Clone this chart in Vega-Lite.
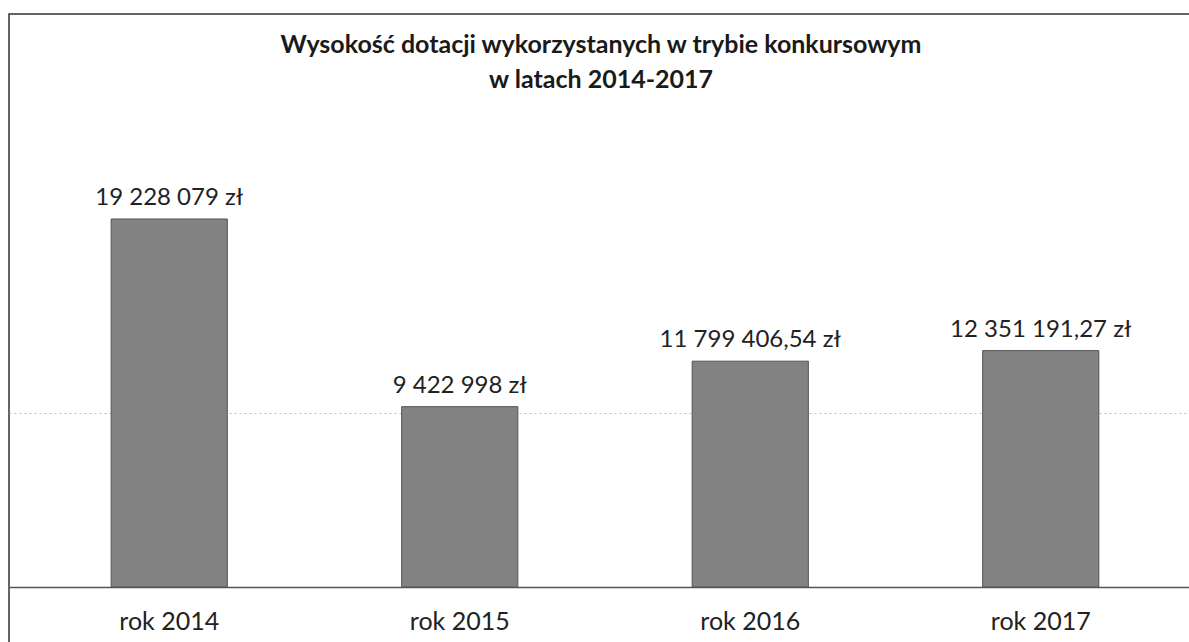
{
  "$schema": "https://vega.github.io/schema/vega-lite/v6.json",
  "autosize": {"type": "none"},
  "padding": {"left": 9, "top": 14, "right": 0, "bottom": 0},
  "width": 1192,
  "height": 636,
  "background": "white",
  "title": {
    "text": ["Wysokość dotacji wykorzystanych w trybie konkursowym", "w latach 2014-2017"],
    "font": "Lato",
    "fontWeight": "bold",
    "fontSize": 25,
    "lineHeight": 35,
    "color": "#1a1a1a",
    "anchor": "middle",
    "frame": "group",
    "offset": -79,
    "dx": -4
  },
  "config": {
    "view": {"stroke": "#333333", "strokeWidth": 1.5}
  },
  "data": {
    "values": [
      {"rok": "rok 2014", "kwota": 19228079, "etykieta": "19 228 079 zł"},
      {"rok": "rok 2015", "kwota": 9422998, "etykieta": "9 422 998 zł"},
      {"rok": "rok 2016", "kwota": 11799406.54, "etykieta": "11 799 406,54 zł"},
      {"rok": "rok 2017", "kwota": 12351191.27, "etykieta": "12 351 191,27 zł"}
    ]
  },
  "encoding": {
    "x": {
      "field": "rok",
      "type": "nominal",
      "sort": null,
      "scale": {"paddingInner": 0.6, "paddingOuter": 0.3516},
      "axis": {
        "title": null,
        "orient": "bottom",
        "offset": -63,
        "domain": true,
        "domainColor": "#555555",
        "domainWidth": 1.5,
        "ticks": false,
        "labelAngle": 0,
        "labelFont": "Lato",
        "labelFontSize": 25,
        "labelColor": "#222222",
        "labelPadding": 22
      }
    },
    "y": {
      "field": "kwota",
      "type": "quantitative",
      "scale": {"domain": [-3291750, 29939250], "zero": false, "nice": false},
      "axis": {
        "title": null,
        "values": [9090000],
        "grid": true,
        "gridColor": "#bbbbbb",
        "gridDash": [2, 3],
        "domain": false,
        "ticks": false,
        "labels": false
      }
    }
  },
  "layer": [
    {
      "mark": {"type": "bar", "fill": "#828282", "stroke": "#555555", "strokeWidth": 1},
      "encoding": {"y2": {"datum": 0}}
    },
    {
      "mark": {"type": "text", "font": "Lato", "fontSize": 24, "color": "#222222", "baseline": "alphabetic", "dy": -14},
      "encoding": {"text": {"field": "etykieta"}}
    }
  ]
}
